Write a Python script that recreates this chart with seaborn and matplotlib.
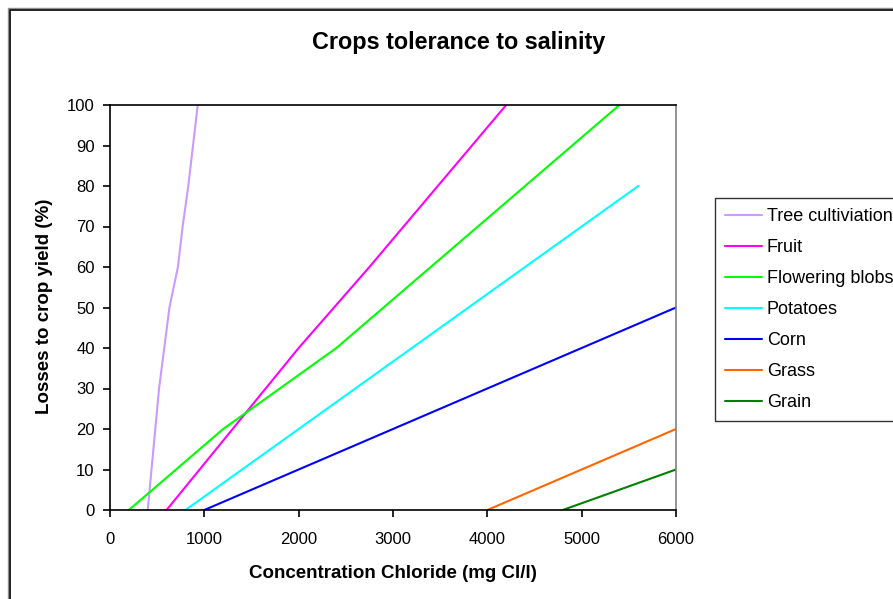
import matplotlib
matplotlib.use("Agg")
import matplotlib.pyplot as plt
from matplotlib.patches import Rectangle
import seaborn as sns
import pandas as pd

# Chloride concentration (mg Cl/l) vs. yield loss (%) per crop group
crops = ["Tree cultiviation", "Fruit", "Flowering blobs", "Potatoes", "Corn", "Grass", "Grain"]

tree_x = [400, 520, 630, 720, 770, 830, 930]
tree_y = [0, 30, 50, 60, 70, 80, 100]
fruit_x = [600, 2000, 2750, 4200]
fruit_y = [0, 40, 60, 100]
flower_x = [200, 1200, 2400, 5400]
flower_y = [0, 20, 40, 100]
potato_x = [800, 2000, 5600]
potato_y = [0, 20, 80]
corn_x = [1000, 2000, 6000]
corn_y = [0, 10, 50]
grass_x = [4000, 5000, 6000]
grass_y = [0, 10, 20]
grain_x = [4800, 6000]
grain_y = [0, 10]

x_ticks = [0, 1000, 2000, 3000, 4000, 5000, 6000]
y_ticks = [0, 10, 20, 30, 40, 50, 60, 70, 80, 90, 100]

colors = ["#CC99FF", "#FF00FF", "#00FF00", "#00FFFF", "#0000FF", "#FF6600", "#008000"]

series = [
    (tree_x, tree_y), (fruit_x, fruit_y), (flower_x, flower_y),
    (potato_x, potato_y), (corn_x, corn_y), (grass_x, grass_y), (grain_x, grain_y),
]
frames = []
for name, (xs, ys) in zip(crops, series):
    frames.append(pd.DataFrame({"Chloride": xs, "Loss": ys, "Crop": name}))
df = pd.concat(frames, ignore_index=True)

sns.set_theme(style="white")
plt.rcParams["font.family"] = ["Liberation Sans", "DejaVu Sans"]
plt.rcParams["text.color"] = "black"
plt.rcParams["axes.labelcolor"] = "black"

W, H = 893, 599
fig = plt.figure(figsize=(W / 100, H / 100), dpi=100)
fig.patch.set_facecolor("white")

ax = fig.add_axes([110 / W, 1 - 510 / H, (676 - 110) / W, (510 - 105) / H])

sns.lineplot(data=df, x="Chloride", y="Loss", hue="Crop", hue_order=crops,
             palette=dict(zip(crops, colors)), estimator=None, sort=False,
             units="Crop", linewidth=1.5, ax=ax, legend=True)

ax.set_xlim(0, 6000)
ax.set_ylim(0, 100)
ax.set_xticks(x_ticks)
ax.set_yticks(y_ticks)
ax.tick_params(axis="both", direction="out", length=5, width=1.2, color="black",
               labelsize=12, labelcolor="black")
ax.tick_params(axis="x", bottom=True, pad=11)
ax.tick_params(axis="y", left=True, pad=6)

for side in ["left", "bottom", "top"]:
    ax.spines[side].set_color("black")
    ax.spines[side].set_linewidth(1.2)
    ax.spines[side].set_visible(True)
ax.spines["right"].set_color("#808080")
ax.spines["right"].set_linewidth(1.2)
ax.spines["right"].set_visible(True)

ax.set_xlabel("Concentration Chloride (mg Cl/l)", fontsize=13.5, fontweight="bold",
              color="black")
ax.set_ylabel("Losses to crop yield (%)", fontsize=13.5, fontweight="bold",
              color="black")
ax.xaxis.set_label_coords((393 - 110) / 566, (510 - 573) / 405)
ax.yaxis.set_label_coords((45 - 110) / 566, (510 - 306) / 405)
ax.xaxis.label.set_va("center")
ax.yaxis.label.set_va("center")

fig.text(459 / W, 1 - 43 / H, "Crops tolerance to salinity", ha="center", va="center",
         fontsize=16.8, fontweight="bold", color="black")

handles, labels = ax.get_legend_handles_labels()
ax.get_legend().remove()
leg = fig.legend(handles, labels, loc="upper left",
                 bbox_to_anchor=(715 / W, 1 - 198 / H), bbox_transform=fig.transFigure,
                 frameon=True, fancybox=False, shadow=False, fontsize=13,
                 handlelength=2.0, handletextpad=0.28, labelspacing=0.77,
                 borderpad=0.58, borderaxespad=0, labelcolor="black")
leg.get_frame().set_edgecolor("black")
leg.get_frame().set_linewidth(1.0)
for line in leg.get_lines():
    line.set_linewidth(1.5)

# chart area border (open to the right and bottom)
fig.add_artist(Rectangle((8 / W, -0.1), 1.2, 1 - 8 / H + 0.1, transform=fig.transFigure,
                         fill=False, edgecolor="#909090", linewidth=1.0))
fig.add_artist(Rectangle((9.5 / W, -0.1), 1.2, 1 - 9.5 / H + 0.1, transform=fig.transFigure,
                         fill=False, edgecolor="black", linewidth=1.2))

fig.savefig("out.png", dpi=100)
